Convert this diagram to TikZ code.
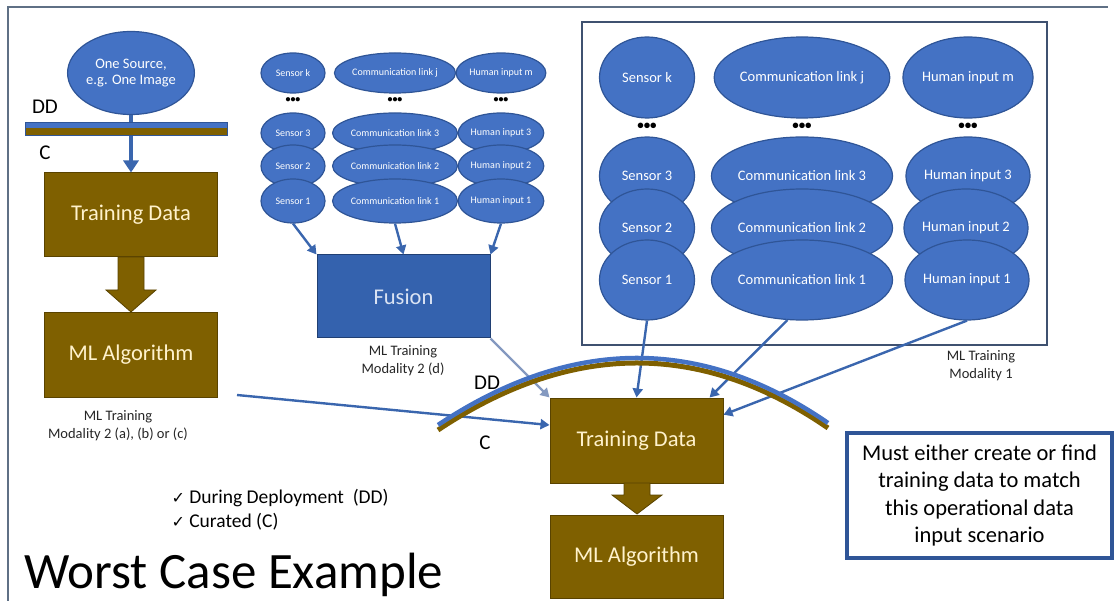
\documentclass[tikz,border=0pt]{standalone}
\usepackage{fontspec}
\setmainfont{Carlito}
\newfontfamily\symfont{DejaVu Sans}
\usetikzlibrary{arrows.meta,calc,shapes.geometric}
\definecolor{ellfill}{HTML}{4472C4}
\definecolor{elledge}{HTML}{2F5597}
\definecolor{goldfill}{HTML}{7F6000}
\definecolor{goldedge}{HTML}{594300}
\definecolor{goldtext}{HTML}{FFF2CC}
\definecolor{fusfill}{HTML}{3462AE}
\definecolor{fusedge}{HTML}{203F73}
\definecolor{fustext}{HTML}{DAE3F3}
\definecolor{arrblue}{HTML}{3A66AE}
\definecolor{arrlight}{HTML}{8499C0}
\definecolor{framec}{HTML}{5F7085}
\definecolor{boxc}{HTML}{3F5170}
\begin{document}
\begin{tikzpicture}[x=1pt,y=-1pt,
  ell/.style={ellipse, fill=ellfill, draw=elledge, line width=1.2pt, text=white, inner sep=0pt, align=center},
  ellS/.style={ell, font=\fontsize{10}{12}\selectfont},
  ellL/.style={ell, font=\fontsize{14.5}{17}\selectfont},
  goldbox/.style={rectangle, fill=goldfill, draw=goldedge, line width=1pt, text=goldtext, font=\fontsize{22.5}{27}\selectfont, inner sep=0pt, minimum width=173pt, minimum height=84pt},
  arr/.style={draw=arrblue, line width=2.4pt, -{Triangle[length=9pt,width=10pt]}},
  arrbig/.style={draw=arrblue, line width=3.5pt, -{Triangle[length=12pt,width=15pt]}},
  lbl/.style={font=\fontsize{14.5}{18}\selectfont, align=center, text=black!85},
  big/.style={font=\fontsize{21}{24}\selectfont, text=black},
  dotsS/.style={font=\bfseries\fontsize{10}{10}\selectfont, text=black},
  dotsL/.style={font=\bfseries\fontsize{13}{13}\selectfont, text=black}
]
\useasboundingbox (0,0) rectangle (1116,601);
% frame
\draw[framec, line width=1.5pt] (8,601) -- (8,7) -- (1108,7);

% ---------- left column ----------
\node[ell, font=\fontsize{14.5}{16.5}\selectfont, minimum width=122pt, minimum height=83pt] (src) at (131,73) {One Source,\\e.g. One Image};
\node[goldbox] (td1) at (131,215) {Training Data};
\node[goldbox] (ml1) at (131,355) {ML Algorithm};
\draw[arrbig] (src.south) -- (td1.north);
\fill[ellfill] (25,122) rectangle (227,128.5);
\fill[goldfill] (25,128.5) rectangle (227,135);
\draw[elledge, line width=0.6pt] (25,122) rectangle (227,135);
\node[big] (dd1) at (45,107) {DD};
\node[big] (c1) at (45,153) {C};
\fill[goldfill, draw=goldedge, line width=0.8pt] (118,257) -- (144,257) -- (144,290) -- (156,290) -- (131,312) -- (106,290) -- (118,290) -- cycle;
\node[lbl] (lab1) at (118,426) {ML Training\\Modality 2 (a), (b) or (c)};

% ---------- middle group ----------
\node[ellS, minimum width=64pt, minimum height=40pt] (mk) at (293,73) {Sensor k};
\node[dotsS] (mdots1) at (293,100) {•••};
\node[ellS, minimum width=64pt, minimum height=40pt] (m3) at (293,133) {Sensor 3};
\node[ellS, minimum width=64pt, minimum height=42pt] (m2) at (293,166) {Sensor 2};
\node[ellS, minimum width=64pt, minimum height=44pt] (m1) at (293,201) {Sensor 1};

\node[ellS, minimum width=110pt, minimum height=40pt] (mcj) at (395,73) {Communication link j};
\node[dotsS] (mdots2) at (395,100) {•••};
\node[ellS, minimum width=110pt, minimum height=40pt] (mc3) at (395,133) {Communication link 3};
\node[ellS, minimum width=110pt, minimum height=42pt] (mc2) at (395,166) {Communication link 2};
\node[ellS, minimum width=110pt, minimum height=44pt] (mc1) at (395,201) {Communication link 1};

\node[ellS, minimum width=76pt, minimum height=40pt] (mhm) at (501,73) {Human input m};
\node[dotsS] (mdots3) at (501,100) {•••};
\node[ellS, minimum width=76pt, minimum height=40pt] (mh3) at (501,133) {Human input 3};
\node[ellS, minimum width=76pt, minimum height=42pt] (mh2) at (501,166) {Human input 2};
\node[ellS, minimum width=76pt, minimum height=44pt] (mh1) at (501,201) {Human input 1};

\node[rectangle, fill=fusfill, draw=fusedge, line width=1pt, text=fustext, font=\fontsize{22.5}{27}\selectfont, minimum width=173pt, minimum height=83pt] (fus) at (403.5,296.5) {Fusion};
\draw[arr] (m1.south) -- (fus.north west);
\draw[arr] (mc1.south) -- (fus.north);
\draw[arr] (mh1.south) -- (fus.north east);
\node[lbl] (lab2) at (403,361) {ML Training\\Modality 2 (d)};

% ---------- right group ----------
\draw[boxc, line width=2.5pt] (582,22) rectangle (1047,345);
\node[ellL, minimum width=95pt, minimum height=81pt] (rk) at (647,77.5) {Sensor k};
\node[dotsL] (rdots1) at (647,126) {•••};
\node[ellL, minimum width=95pt, minimum height=78pt] (r3) at (647,176) {Sensor 3};
\node[ellL, minimum width=95pt, minimum height=78pt] (r2) at (647,228) {Sensor 2};
\node[ellL, minimum width=95pt, minimum height=80pt] (r1) at (647,280) {Sensor 1};

\node[ellL, minimum width=170pt, minimum height=81pt] (rcj) at (802,77.5) {Communication link j};
\node[dotsL] (rdots2) at (802,126) {•••};
\node[ellL, minimum width=170pt, minimum height=78pt] (rc3) at (802,176) {Communication link 3};
\node[ellL, minimum width=170pt, minimum height=78pt] (rc2) at (802,228) {Communication link 2};
\node[ellL, minimum width=170pt, minimum height=80pt] (rc1) at (802,280) {Communication link 1};

\node[ellL, minimum width=121pt, minimum height=81pt] (rhm) at (968,77.5) {Human input m};
\node[dotsL] (rdots3) at (968,126) {•••};
\node[ellL, minimum width=121pt, minimum height=78pt] (rh3) at (968,176) {Human input 3};
\node[ellL, minimum width=121pt, minimum height=78pt] (rh2) at (966,228) {Human input 2};
\node[ellL, minimum width=121pt, minimum height=80pt] (rh1) at (967,280) {Human input 1};
\node[lbl] (lab3) at (981,366) {ML Training\\Modality 1};

% ---------- centre ----------
\node[goldbox, minimum height=85pt] (td2) at (636.5,440.5) {Training Data};
\node[goldbox, minimum height=83pt] (ml2) at (636.5,556.5) {ML Algorithm};
\fill[goldfill, draw=goldedge, line width=0.8pt] (624,483) -- (650,483) -- (650,495) -- (662,495) -- (637,514) -- (612,495) -- (624,495) -- cycle;

\coordinate (la) at (237,395);
\draw[arr] (la) -- ($(td2.north west)!0.32!(td2.south west)$);
\draw[arr, draw=arrlight] (fus.south east) -- (td2.north west);
\draw[arr] (r1.south) -- (td2.north);
\draw[arr] (rc1.250) -- ($(td2.north west)!0.92!(td2.north east)$);
\draw[arr] (rh1.south) -- ($(td2.north east)!0.2!(td2.south east)$);

% curved DD / C bar
\draw[goldfill, line width=5pt] (438,430) .. controls (571,341.5) and (701,340.5) .. (828,428);
\draw[ellfill, line width=4.5pt] (438,425) .. controls (571,336.5) and (701,335.5) .. (828,423);
\node[big] (dd2) at (487,383) {DD};
\node[big] (c2) at (485,443) {C};

% ---------- text box ----------
\node[draw=elledge, line width=4pt, minimum width=265pt, minimum height=125pt, align=center, font=\fontsize{22.5}{27.3}\selectfont, text=black] (note) at (979.5,495.5) {Must either create or find\\training data to match\\this operational data\\input scenario};

% ---------- checklist and title ----------
\node[anchor=west, align=left, font=\fontsize{19.5}{24}\selectfont, text=black] (chk) at (168,510) {{\symfont\fontsize{16}{24}\selectfont ✓}\ During Deployment\ \ (DD)\\{\symfont\fontsize{16}{24}\selectfont ✓}\ Curated (C)};
\node[anchor=base west, font=\fontsize{51}{60}\selectfont, text=black] (title) at (21,588) {Worst Case Example};
\end{tikzpicture}
\end{document}
